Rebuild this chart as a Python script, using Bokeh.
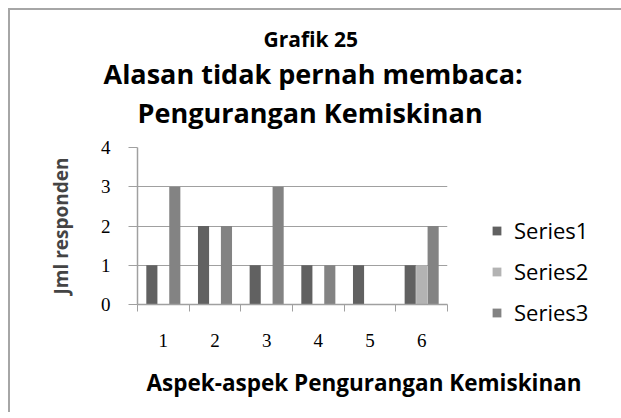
from bokeh.plotting import figure
from bokeh.models import (ColumnDataSource, FixedTicker, Legend, LegendItem, Title,
                          LinearAxis)
from bokeh.transform import dodge
from bokeh.embed import file_html
from bokeh.resources import INLINE

categories = [1, 2, 3, 4, 5, 6]
series1 = [1, 2, 1, 1, 1, 1]
series2 = [0, 0, 0, 0, 0, 1]
series3 = [3, 2, 3, 1, 0, 2]
series_names = ["Series1", "Series2", "Series3"]
y_ticks = [0, 1, 2, 3, 4]

title_top = "Grafik 25"
title_lines = ["Alasan tidak pernah membaca:", "Pengurangan Kemiskinan"]
x_title = "Aspek-aspek Pengurangan Kemiskinan"
y_title = "Jml responden"

colors = ["#616161", "#b3b3b3", "#838383"]
FONT = "Open Sans"

source = ColumnDataSource(dict(x=categories, s1=series1, s2=series2, s3=series3))

n = len(categories)
p = figure(frame_width=310, frame_height=157, output_backend="svg", toolbar_location=None,
           x_range=(0.5, n + 0.5), y_range=(0, max(y_ticks)),
           min_border_left=127, min_border_right=156, min_border_top=137,
           min_border_bottom=100)
p.styles = {"border-left": "2px solid #a6a6a6", "border-top": "2px solid #a6a6a6",
            "margin-left": "8px", "margin-top": "8px"}
p.outline_line_color = None
p.background_fill_color = "white"

bw = 0.215
offs = [-0.222, 0.0, 0.222]
renderers = []
for key, off, col in zip(["s1", "s2", "s3"], offs, colors):
    r = p.vbar(x=dodge("x", off), top=key, width=bw, source=source,
               fill_color=col, line_color=None)
    renderers.append(r)

# axes
p.xaxis.ticker = FixedTicker(ticks=categories,
                             minor_ticks=[c - 0.5 for c in categories] + [n + 0.5])
p.xaxis.major_tick_out = 0
p.xaxis.major_tick_in = 0
p.xaxis.minor_tick_out = 7
p.xaxis.minor_tick_in = 0
p.xaxis.minor_tick_line_color = "#a0a0a0"
p.xaxis.axis_line_color = "#a0a0a0"
p.xaxis.axis_line_width = 1.5
p.xaxis.major_label_standoff = 22
p.xaxis.major_label_text_font = "Liberation Serif"
p.xaxis.major_label_text_font_size = "19px"
p.xaxis.major_label_text_color = "black"

p.yaxis.ticker = FixedTicker(ticks=y_ticks)
p.yaxis.minor_tick_line_color = None
p.yaxis.major_tick_out = 9
p.yaxis.major_tick_in = 0
p.yaxis.major_tick_line_color = "#a0a0a0"
p.yaxis.axis_line_color = "#a0a0a0"
p.yaxis.axis_line_width = 1.5
p.yaxis.major_label_standoff = 18
p.yaxis.major_label_text_font = "Liberation Serif"
p.yaxis.major_label_text_font_size = "19px"
p.yaxis.major_label_text_color = "black"
p.yaxis.axis_label = y_title
p.yaxis.axis_label_text_font = FONT
p.yaxis.axis_label_text_font_style = "bold"
p.yaxis.axis_label_text_font_size = "19px"
p.yaxis.axis_label_standoff = 24

p.xgrid.grid_line_color = None
p.ygrid.grid_line_color = "#a0a0a0"
p.ygrid.grid_line_width = 1.2

# invisible spacer between plot area and title block
spacer = LinearAxis(ticker=FixedTicker(ticks=[categories[0]]),
                    major_label_overrides={categories[0]: ""},
                    axis_line_color=None, major_tick_line_color=None,
                    minor_tick_line_color=None, major_tick_out=17, major_tick_in=0,
                    major_label_standoff=0)
p.add_layout(spacer, "above")

# titles (added innermost first)
p.add_layout(Title(text=title_lines[1], align="left", offset=0, standoff=0,
                   text_font=FONT, text_font_style="bold", text_font_size="27px",
                   text_color="black"), "above")
p.add_layout(Title(text=title_lines[0], align="left", offset=-34, standoff=0,
                   text_font=FONT, text_font_style="bold", text_font_size="27px",
                   text_color="black"), "above")
p.add_layout(Title(text=title_top, align="left", offset=126, standoff=0,
                   text_font=FONT, text_font_style="bold", text_font_size="21px",
                   text_color="black"), "above")

p.add_layout(Title(text=x_title, align="left", offset=9, standoff=30,
                   text_font=FONT, text_font_style="bold", text_font_size="22.5px",
                   text_color="black"), "below")

legend = Legend(items=[LegendItem(label=nm, renderers=[r]) for nm, r in zip(series_names, renderers)],
                location=(44, -23), padding=0, margin=0, border_line_color=None,
                background_fill_alpha=0, glyph_width=11, glyph_height=11,
                label_standoff=12, label_height=24, spacing=11,
                label_text_font=FONT, label_text_font_size="22px", label_text_color="black")
p.add_layout(legend, "right")

open("out.html", "w").write(file_html(p, INLINE))
